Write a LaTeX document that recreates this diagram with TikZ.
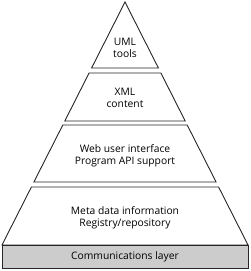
\documentclass[tikz,border=0pt]{standalone}
\usepackage{fontspec}
\setmainfont{Open Sans}
\begin{document}
\begin{tikzpicture}[x=1pt,y=-1pt,
  layer/.style={draw=black!85, line width=0.9pt, fill=white, line join=miter},
  lbl/.style={font=\fontsize{10.3}{12}\selectfont, align=center, inner sep=0pt, text=black}]
\useasboundingbox (0,0) rectangle (250,271);
% layers
\draw[layer] (125,2) -- (158.4,68) -- (91.6,68) -- cycle;
\draw[layer] (89.1,73) -- (160.9,73) -- (185.2,121) -- (64.8,121) -- cycle;
\draw[layer] (62.8,125) -- (187.2,125) -- (216.1,182) -- (33.9,182) -- cycle;
\draw[layer] (31.4,187) -- (218.6,187) -- (248,245) -- (2,245) -- cycle;
\draw[layer, fill=black!20] (2,245) rectangle (248,268);
% labels
\node[lbl] (uml) at (125,47.5) {UML\\tools};
\node[lbl] (xml) at (125,97.5) {XML\\content};
\node[lbl] (web) at (125,155.5) {Web user interface\\Program API support};
\node[lbl] (meta) at (125,218) {Meta data information\\Registry/repository};
\node[lbl] (comm) at (125,257) {Communications layer};
\end{tikzpicture}
\end{document}
